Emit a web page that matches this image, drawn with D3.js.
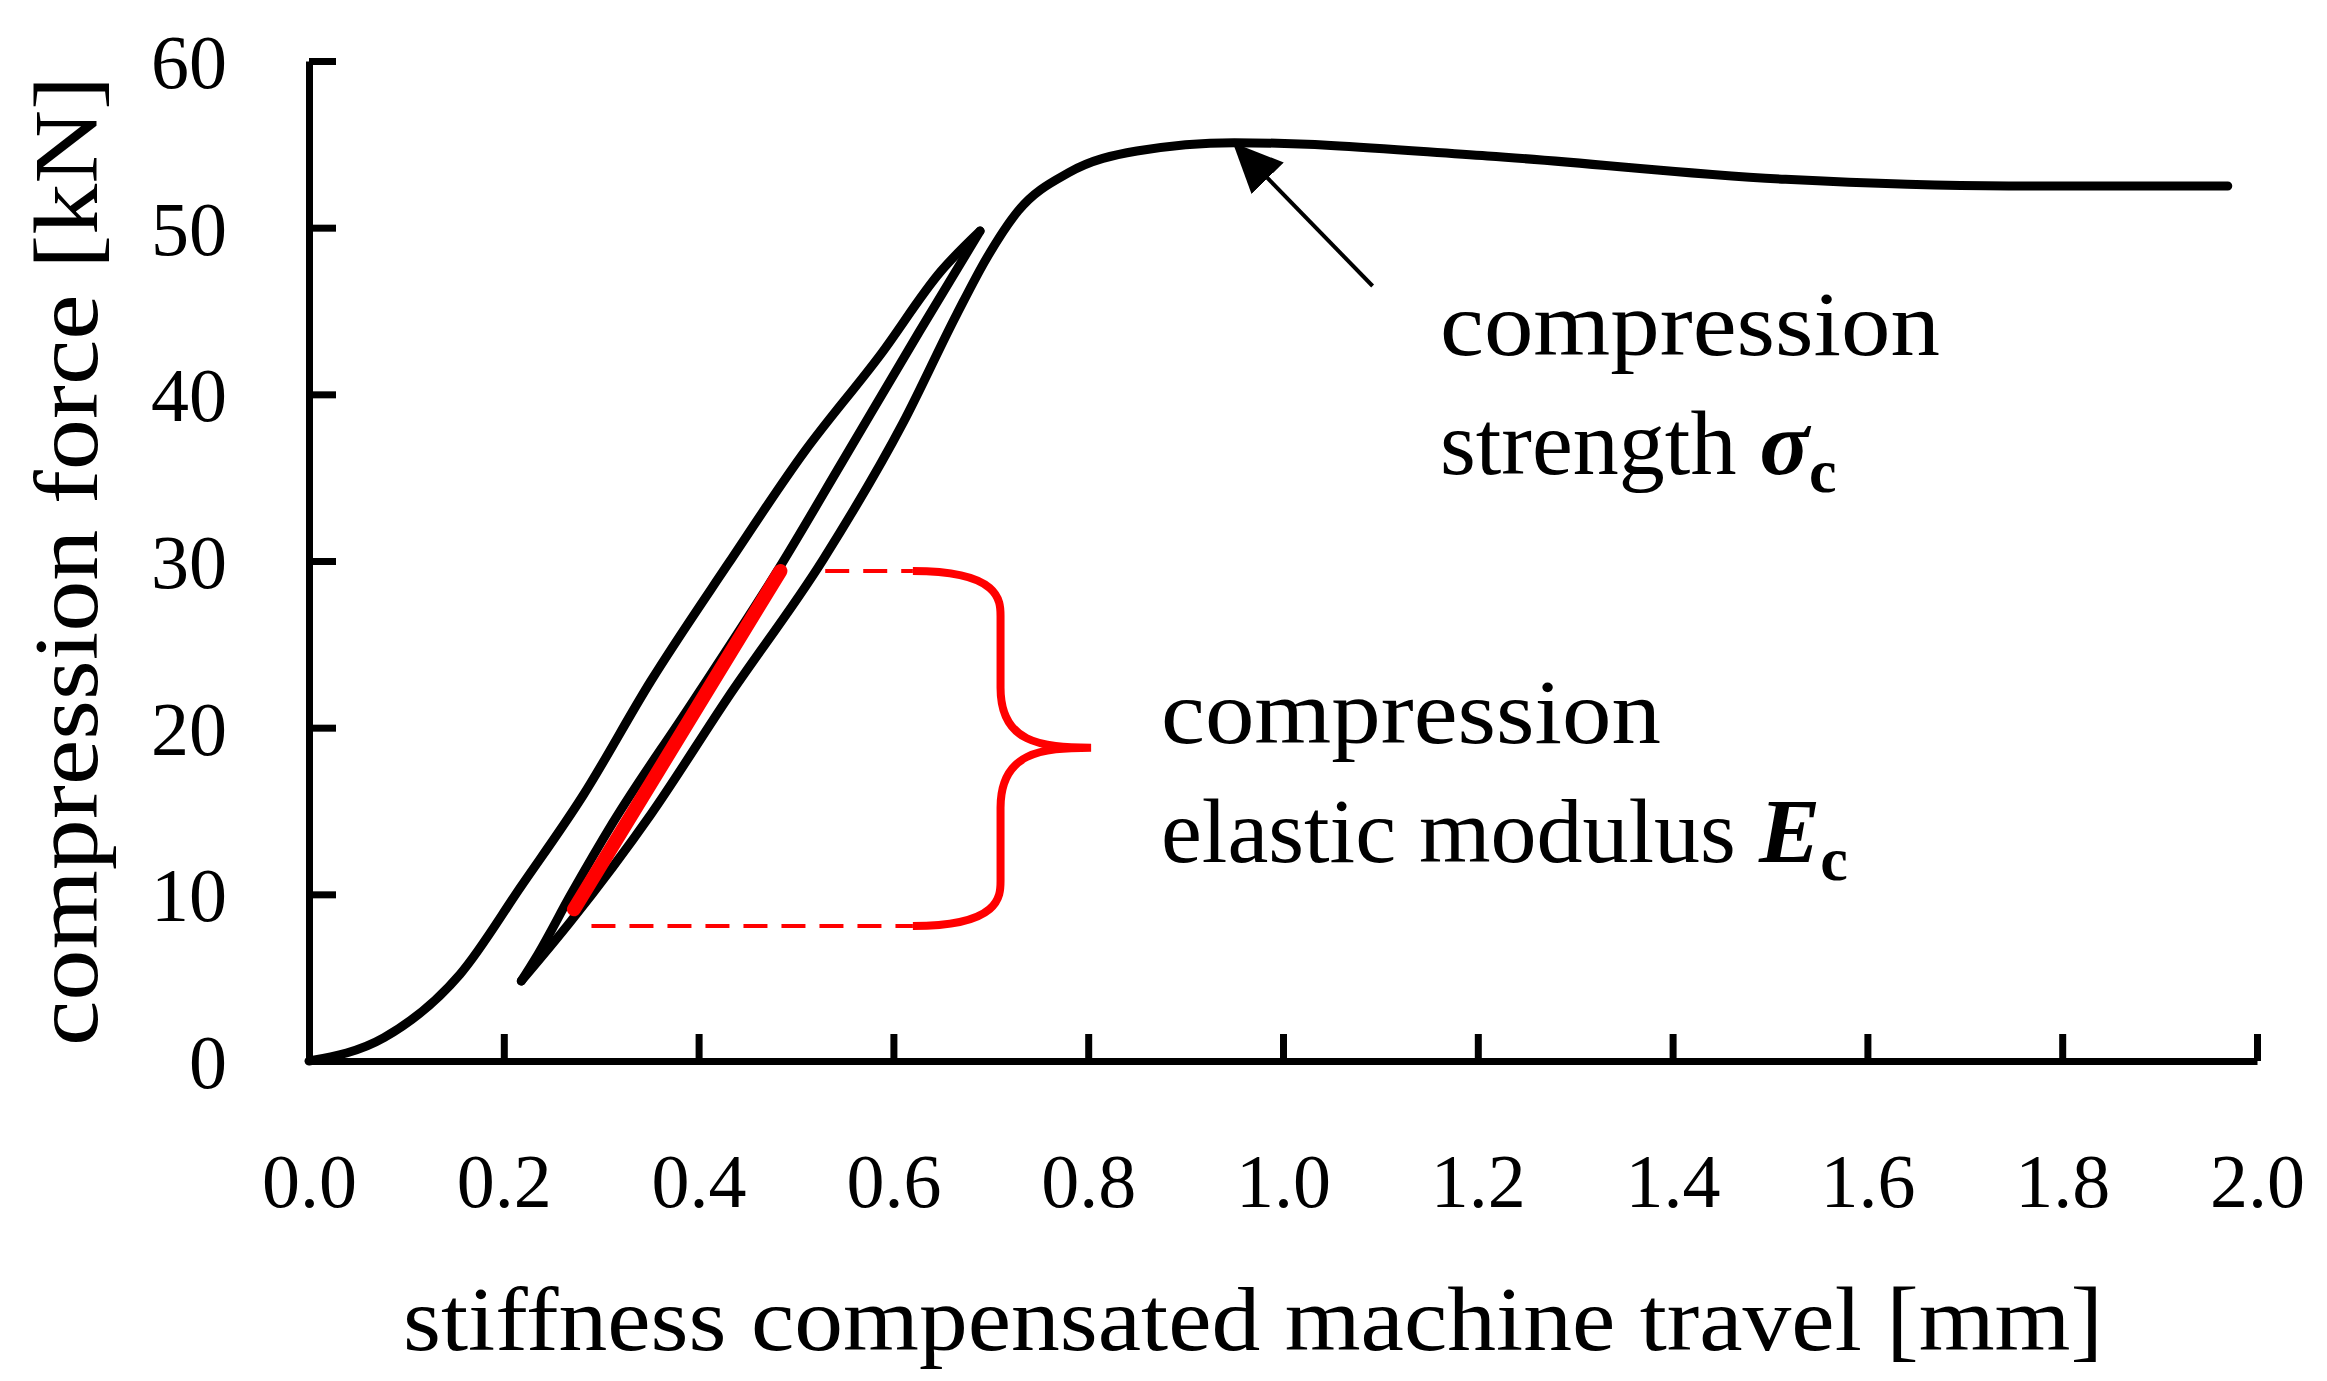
<!DOCTYPE html>
<html>
<head>
<meta charset="utf-8">
<script src="https://cdn.jsdelivr.net/npm/d3@7"></script>
<style>
  body { margin: 0; background: #fff; }
  text { font-family: "Liberation Serif", serif; fill: #000; }
</style>
</head>
<body>
<div id="chart"></div>
<script>
// Data (x in mm, y in kN)
const loading = [[0,0],[0.077,1.4],[0.155,5.2],[0.218,10.5],[0.281,15.9],[0.351,22.8],[0.43,29.8],[0.508,36.5],[0.587,42.4],[0.649,47.4],[0.689,49.8]];
const unloading = [[0.218,4.8],[0.234,6.3],[0.269,10],[0.312,14.3],[0.39,21.2],[0.485,29.8],[0.547,35.9],[0.626,43.7],[0.689,49.8]];
const reloading = [[0.218,4.8],[0.269,8.4],[0.351,14.8],[0.43,21.8],[0.528,30.1],[0.61,38.3],[0.665,44.8],[0.696,48.2],[0.728,51.0],[0.78,53.3],[0.85,54.6],[0.95,55.1],[1.21,54.3],[1.516,52.9],[1.745,52.5],[1.97,52.5]];
const modulusLine = [[0.272,9.1],[0.484,29.4]];
const xTicks = [0,0.2,0.4,0.6,0.8,1.0,1.2,1.4,1.6,1.8,2.0];
const yTicks = [0,10,20,30,40,50,60];

const W = 2327, H = 1381;
const margin = { top: 61, right: 70, bottom: 320, left: 309 };

const x = d3.scaleLinear().domain([0, 2]).range([margin.left, W - margin.right]);
const y = d3.scaleLinear().domain([0, 60]).range([H - margin.bottom, margin.top]);

const svg = d3.select("#chart").append("svg")
  .attr("width", W).attr("height", H);

// Axes (ticks pointing inward)
svg.append("g")
  .attr("transform", `translate(0,${y(0)})`)
  .call(d3.axisBottom(x).tickValues(xTicks).tickSizeInner(-27).tickSizeOuter(0).tickPadding(0).tickFormat(d3.format(".1f")))
  .call(g => g.selectAll("line, path").attr("stroke", "#000").attr("stroke-width", 7))
  .call(g => g.selectAll("text").attr("y", 0).attr("dy", 0)
    .attr("transform", "translate(0,146)").style("font-size", "76px"));

svg.append("g")
  .attr("transform", `translate(${x(0)},0)`)
  .call(d3.axisLeft(y).tickValues(yTicks).tickSizeInner(-27).tickSizeOuter(0).tickPadding(0))
  .call(g => g.selectAll("line, path").attr("stroke", "#000").attr("stroke-width", 7))
  .call(g => g.selectAll("text").attr("x", -82).attr("dy", "0.35em").style("font-size", "76px"));

// Axis titles
svg.append("text")
  .attr("x", (x(0) + x(2)) / 2 - 30).attr("y", 1350)
  .attr("text-anchor", "middle").style("font-size", "90px")
  .attr("textLength", 1700).attr("lengthAdjust", "spacingAndGlyphs")
  .text("stiffness compensated machine travel [mm]");

svg.append("text")
  .attr("transform", `translate(97,${y(30)}) rotate(-90)`)
  .attr("text-anchor", "middle").style("font-size", "90px")
  .attr("textLength", 970).attr("lengthAdjust", "spacingAndGlyphs")
  .text("compression force [kN]");

// Curves
const line = d3.line().x(d => x(d[0])).y(d => y(d[1])).curve(d3.curveMonotoneX);
[loading, unloading, reloading].forEach(s => {
  svg.append("path").datum(s).attr("d", line)
    .attr("fill", "none").attr("stroke", "#000").attr("stroke-width", 9)
    .attr("stroke-linecap", "round").attr("stroke-linejoin", "round");
});

// Red modulus segment
svg.append("path").datum(modulusLine).attr("d", d3.line().x(d => x(d[0])).y(d => y(d[1])))
  .attr("fill", "none").attr("stroke", "#ff0000").attr("stroke-width", 14).attr("stroke-linecap", "round");

// Dashed guides
const red = "#ff0000";
svg.append("line").attr("x1", x(0.53)).attr("x2", x(0.62)).attr("y1", y(29.4)).attr("y2", y(29.4))
  .attr("stroke", red).attr("stroke-width", 4).attr("stroke-dasharray", "24,14");
svg.append("line").attr("x1", x(0.29)).attr("x2", x(0.62)).attr("y1", y(8.1)).attr("y2", y(8.1))
  .attr("stroke", red).attr("stroke-width", 4).attr("stroke-dasharray", "24,14");

// Curly brace
const bx0 = x(0.62), bx1 = x(0.71), bx2 = x(0.803);
const yt = y(29.4), yb = y(8.1), ym = y(18.8);
svg.append("path")
  .attr("d", `M${bx0},${yt} C${bx1},${yt} ${bx1},${yt + 30} ${bx1},${yt + 45}
    L${bx1},${ym - 60} C${bx1},${ym - 5} ${bx1 + 40},${ym} ${bx2},${ym}
    C${bx1 + 40},${ym} ${bx1},${ym + 5} ${bx1},${ym + 60}
    L${bx1},${yb - 45} C${bx1},${yb - 30} ${bx1},${yb} ${bx0},${yb}`)
  .attr("fill", "none").attr("stroke", red).attr("stroke-width", 8);

// Arrow to the peak
svg.append("defs").append("marker")
  .attr("id", "arrow").attr("viewBox", "0 0 10 10").attr("refX", 9).attr("refY", 5)
  .attr("markerWidth", 12).attr("markerHeight", 12).attr("markerUnits", "userSpaceOnUse")
  .attr("orient", "auto")
  .append("path").attr("d", "M0,0.5 L10,5 L0,9.5 Z").attr("fill", "#000");
svg.select("marker").attr("markerWidth", 50).attr("markerHeight", 50);
svg.append("line")
  .attr("x1", x(1.092)).attr("y1", y(46.5)).attr("x2", x(0.952)).attr("y2", y(54.9))
  .attr("stroke", "#000").attr("stroke-width", 4).attr("marker-end", "url(#arrow)");

// Annotations
function note(tx, y1, y2, second, sym) {
  svg.append("text").attr("x", tx).attr("y", y1).style("font-size", "92px")
    .attr("textLength", 500).attr("lengthAdjust", "spacingAndGlyphs").text("compression");
  const t = svg.append("text").attr("x", tx).attr("y", y2).style("font-size", "92px");
  t.append("tspan").text(second + " ");
  t.append("tspan").style("font-style", "italic").style("font-weight", "bold").text(sym);
  t.append("tspan").attr("dy", 18).style("font-size", "62px").style("font-weight", "bold").text("c");
}
note(1440, 355, 474, "strength", "σ");
note(1161, 743, 862, "elastic modulus", "E");
</script>
</body>
</html>
